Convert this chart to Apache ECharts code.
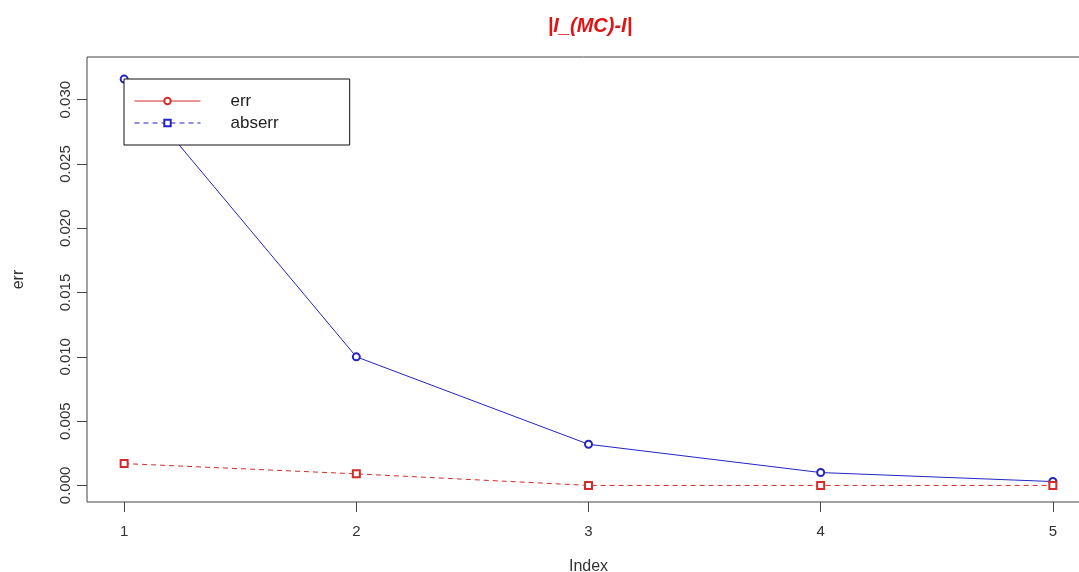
<!DOCTYPE html>
<html>
<head>
<meta charset="utf-8">
<script src="https://cdn.jsdelivr.net/npm/echarts@6/dist/echarts.min.js"></script>
<style>
html,body{margin:0;padding:0;background:#fff;}
#chart{width:1079px;height:572px;}
</style>
</head>
<body>
<div id="chart"></div>
<script>
// ---- data ----
var xIndex = [1, 2, 3, 4, 5];
var errValues = [0.0316, 0.0100, 0.0032, 0.0010, 0.0003];     // blue solid, circles
var abserrValues = [0.0017, 0.0009, 0.0000, 0.0000, 0.0000];  // red dashed, squares
var yTickValues = [0, 0.005, 0.010, 0.015, 0.020, 0.025, 0.030];
var xTickValues = [1, 2, 3, 4, 5];
var titleText = '|I_(MC)-I|';
var legendNames = ['err', 'abserr'];

function pairs(xs, ys) { return xs.map(function (x, i) { return [x, ys[i]]; }); }

var BLUE = '#2424c4';
var RED = '#d42a2a';
var FONT = 'Liberation Sans, Arial, sans-serif';

var chart = echarts.init(document.getElementById('chart'), null, {renderer: 'canvas'});
chart.setOption({
  backgroundColor: '#fff',
  animation: false,
  title: {
    text: titleText,
    left: 585, top: 11, textAlign: 'center',
    textStyle: {color: '#e01414', fontSize: 20, fontWeight: 'bold', fontStyle: 'italic', fontFamily: FONT}
  },
  grid: {left: 87, top: 57, width: 1003, height: 445, show: true, borderColor: '#444', borderWidth: 1,
         backgroundColor: 'transparent', containLabel: false, outerBoundsMode: 'none'},
  legend: {
    orient: 'vertical', left: 124, top: 79,
    padding: [13, 71, 13, 10],
    borderColor: '#111', borderWidth: 1, backgroundColor: '#fff',
    itemWidth: 66, itemHeight: 8, itemGap: 4,
    textStyle: {fontSize: 17, color: '#222', fontFamily: FONT, padding: [0, 0, 0, 25], lineHeight: 18},
    data: [
      {name: legendNames[0], itemStyle: {color: RED}, lineStyle: {color: RED, type: 'solid', width: 1}},
      {name: legendNames[1], itemStyle: {color: BLUE}, lineStyle: {color: BLUE, type: [5, 4], width: 1}}
    ]
  },
  xAxis: {
    type: 'value', min: 0.84, max: 5.16,
    name: 'Index', nameLocation: 'middle', nameGap: 57,
    nameTextStyle: {fontSize: 16, color: '#333', fontFamily: FONT},
    axisLine: {show: false, onZero: false},
    axisTick: {show: true, length: 10, customValues: xTickValues, lineStyle: {color: '#444'}},
    axisLabel: {customValues: xTickValues, margin: 22, fontSize: 15, color: '#333', fontFamily: FONT, formatter: function (v) { return String(v); }},
    splitLine: {show: false}
  },
  yAxis: {
    type: 'value', min: -0.00129, max: 0.03332,
    name: 'err', nameLocation: 'middle', nameGap: 60, nameRotate: 90,
    nameTextStyle: {fontSize: 16, color: '#333', fontFamily: FONT},
    axisLine: {show: false, onZero: false},
    axisTick: {show: true, length: 10, customValues: yTickValues, lineStyle: {color: '#444'}},
    axisLabel: {customValues: yTickValues, rotate: 90, margin: 14, fontSize: 15, color: '#333', fontFamily: FONT, formatter: function (v) { return v.toFixed(3); }},
    splitLine: {show: false}
  },
  series: [
    {
      name: legendNames[0], type: 'line', data: pairs(xIndex, errValues),
      symbol: 'emptyCircle', symbolSize: 7,
      lineStyle: {color: BLUE, width: 1, type: 'solid'},
      itemStyle: {color: BLUE, borderWidth: 1}
    },
    {
      name: legendNames[1], type: 'line', data: pairs(xIndex, abserrValues),
      symbol: 'emptyRect', symbolSize: 7,
      lineStyle: {color: RED, width: 1, type: [5, 4]},
      itemStyle: {color: RED, borderWidth: 1}
    }
  ]
});
</script>
</body>
</html>
